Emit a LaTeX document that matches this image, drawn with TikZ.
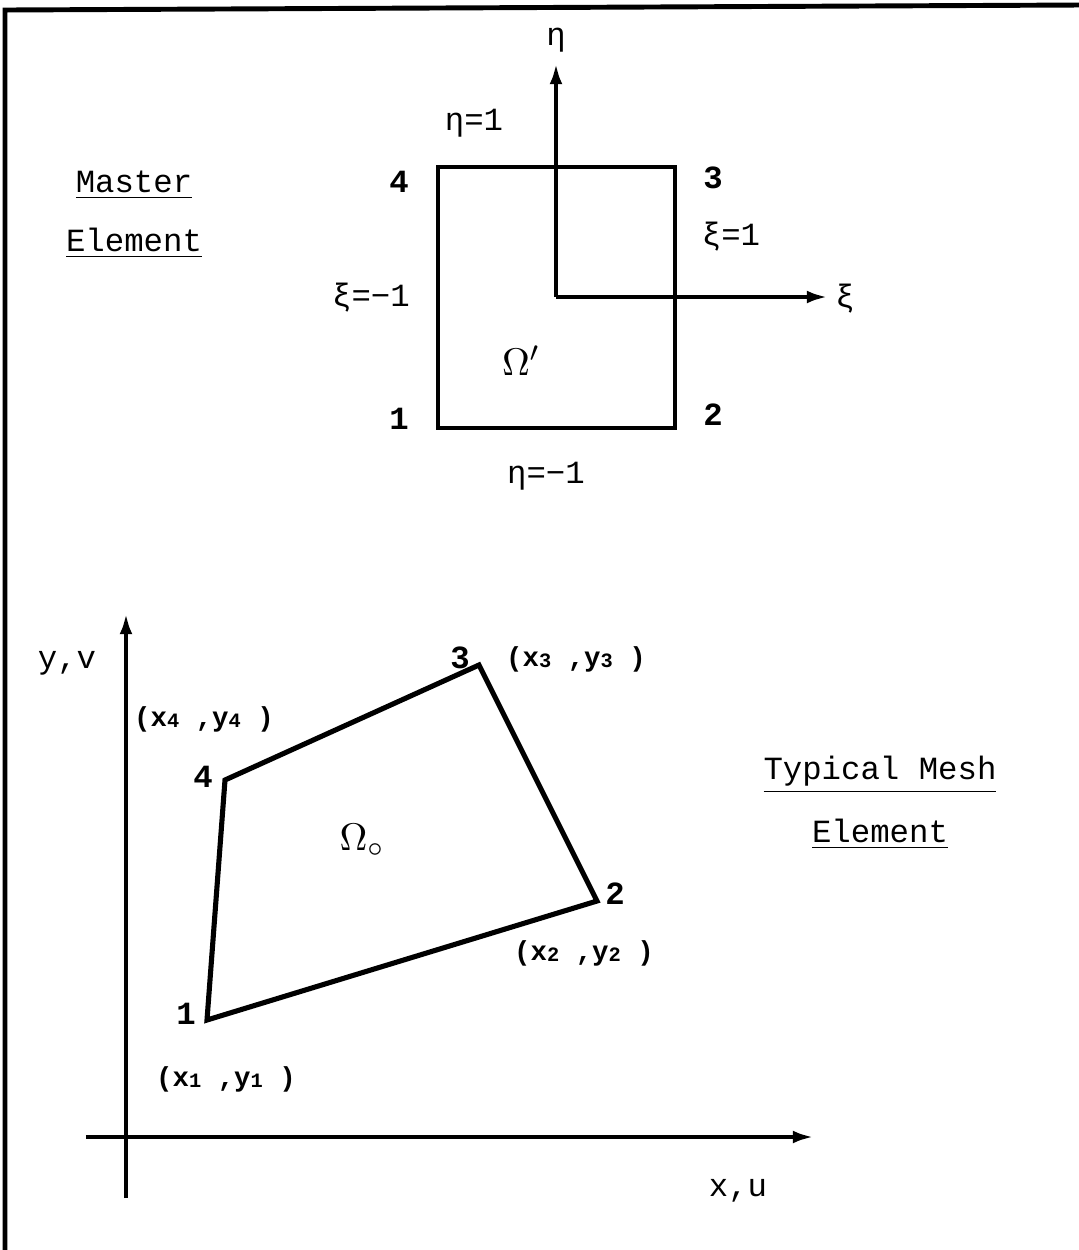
\documentclass[tikz,border=0pt]{standalone}
\usepackage{fontspec}
\setmainfont{Liberation Mono}
\usetikzlibrary{arrows.meta}
\newcommand\lowsub[1]{\raisebox{-0.1ex}{\fontsize{5.8}{7}\selectfont #1}}
\begin{document}
\begin{tikzpicture}[x=0.01cm,y=-0.01cm,
  lbl/.style={inner sep=0pt, font=\fontsize{9.2}{11}\selectfont},
  num/.style={inner sep=0pt, font=\fontsize{9.2}{11}\selectfont\bfseries},
  coordlbl/.style={inner sep=0pt, font=\fontsize{7.8}{10}\selectfont\bfseries},
  omega/.style={inner sep=0pt, font=\fontsize{11}{13}\selectfont},
  edge/.style={line width=1.25pt, line join=miter},
  axis/.style={line width=1.3pt, -{Latex[length=6pt,width=3.6pt]}},
  frame/.style={line width=1.4pt}]
\useasboundingbox (0,0) rectangle (1079,1250);
% frame
\coordinate (fbl) at (5,1250);
\coordinate (ftl) at (5,10);
\coordinate (ftr) at (1079,5);
\draw[frame] (fbl) -- (ftl) -- (ftr);

% ---------- master element ----------
\coordinate (m1) at (438,428);
\coordinate (m2) at (675,428);
\coordinate (m3) at (675,167);
\coordinate (m4) at (438,167);
\draw[edge] (m1) -- (m2) -- (m3) -- (m4) -- cycle;
\coordinate (o) at (556,297);
\coordinate (etatip) at (556,63);
\coordinate (xitip) at (828,297);
\draw[axis] (o) -- (etatip);
\draw[axis] (o) -- (xitip);
\node[lbl] (etalbl) at (556,40) {η};
\node[lbl] (xilbl) at (845,299) {ξ};
\node[lbl] (etaone) at (474,123) {η=1};
\node[lbl] (xione) at (731,237) {ξ=1};
\node[lbl] (ximone) at (371,298) {ξ=−1};
\node[lbl] (etamone) at (546,476) {η=−1};
\node[num] (n4) at (399,182) {4};
\node[num] (n3) at (713,178) {3};
\node[num] (n1) at (399,419) {1};
\node[num] (n2) at (713,415) {2};
\node[omega] (om1) at (521,361) {$\Omega'$};
\node[lbl] (master) at (134,185) {\underline{Master}};
\node[lbl] (melem) at (134,243) {\underline{Element}};

% ---------- typical mesh element ----------
\coordinate (ybot) at (126,1198);
\coordinate (ytip) at (126,613);
\coordinate (xleft) at (86,1137);
\coordinate (xtip) at (814,1137);
\draw[axis] (ybot) -- (ytip);
\draw[axis] (xleft) -- (xtip);
\node[lbl] (yv) at (67,663) {y,v};
\node[lbl] (xu) at (738,1191) {x,u};

\coordinate (p1) at (207,1020);
\coordinate (p2) at (597,901);
\coordinate (p3) at (479,665);
\coordinate (p4) at (225,780);
\draw[line width=1.45pt, line join=miter] (p1) -- (p2) -- (p3) -- (p4) -- cycle;
\node[num] (q1) at (186,1014) {1};
\node[num] (q2) at (615,894) {2};
\node[num] (q3) at (460,658) {3};
\node[num] (q4) at (203,777) {4};
\node[omega] (om2) at (362,840) {$\Omega_{\circ}$};
\node[coordlbl] (c1) at (226,1079) {(x\lowsub{1} ,y\lowsub{1} )};
\node[coordlbl] (c2) at (584,953) {(x\lowsub{2} ,y\lowsub{2} )};
\node[coordlbl] (c3) at (576,659) {(x\lowsub{3} ,y\lowsub{3} )};
\node[coordlbl] (c4) at (204,719) {(x\lowsub{4} ,y\lowsub{4} )};
\node[lbl] (typ) at (880,775) {\underline{Typical Mesh}};
\node[lbl] (telem) at (880,834) {\underline{Element}};
\end{tikzpicture}
\end{document}
